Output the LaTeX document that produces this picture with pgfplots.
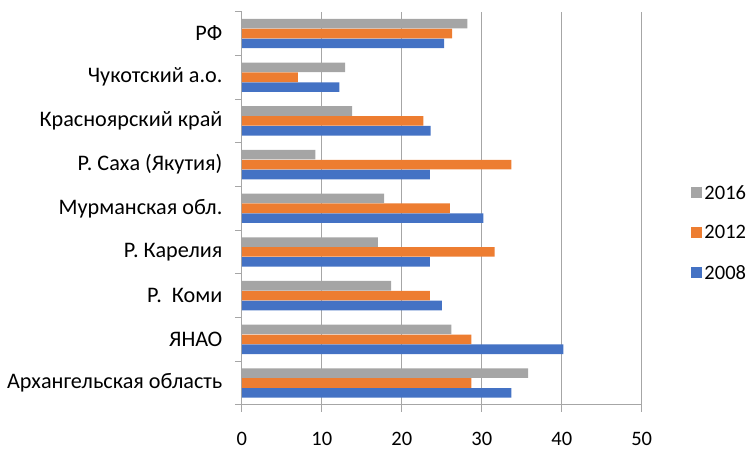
\documentclass[border=0pt]{standalone}
\usepackage{fontspec}
\setmainfont{Carlito}
\usepackage{pgfplots}
\pgfplotsset{compat=1.18}
\definecolor{c08}{HTML}{4472C4}
\definecolor{c12}{HTML}{ED7D31}
\definecolor{c16}{HTML}{A5A5A5}
\definecolor{gridc}{HTML}{A6A6A6}

\begin{document}
\begin{tikzpicture}
\path (-242bp,-45bp) rectangle (509bp,405bp);
\begin{axis}[
  at={(0,0)}, anchor=south west,
  scale only axis, width=400bp, height=393.3bp,
  xbar, bar width=9.6bp,
  xmin=0, xmax=50, xtick={0,10,...,50},
  ymin=-0.5, ymax=8.5,
  ytick={-0.5,0.5,...,8.5}, yticklabels={},
  extra y ticks={0,1,...,8},
  extra y tick labels={Архангельская область, ЯНАО, Р.\ \ Коми, Р. Карелия, Мурманская обл., Р. Саха (Якутия), Красноярский край, Чукотский а.о., РФ},
  extra y tick style={major tick length=0pt, tick style={draw=none}},
  axis x line*=bottom, axis y line*=left,
  axis line style={gridc, line width=0.8bp},
  tick style={gridc, line width=0.8bp},
  tick align=outside, major tick length=7bp,
  xmajorgrids, grid style={gridc, line width=0.8bp},
  /pgf/number format/assume math mode=true,
  xticklabel style={yshift=-17bp, font=\fontsize{20.5bp}{24bp}\selectfont},
  yticklabel style={xshift=-16bp, font=\fontsize{22.2bp}{26bp}\selectfont},
  legend style={draw=none, fill=none, at={(1.115,0.437)}, anchor=west,
    row sep=21bp, font=\fontsize{20.5bp}{24bp}\selectfont},
  legend cell align=left,
  reverse legend,
  legend image code/.code={\fill[#1] (0bp,-5.2bp) rectangle (11.6bp,6.4bp);},
]
\addplot[draw=none, fill=c08, bar shift=-9.9bp] coordinates {
  (33.7,0) (40.2,1) (25.0,2) (23.5,3) (30.2,4) (23.5,5) (23.6,6) (12.2,7) (25.3,8)};
\addlegendentry{2008}
\addplot[draw=none, fill=c12, bar shift=0bp] coordinates {
  (28.7,0) (28.7,1) (23.5,2) (31.6,3) (26.0,4) (33.7,5) (22.7,6) (7.0,7) (26.3,8)};
\addlegendentry{2012}
\addplot[draw=none, fill=c16, bar shift=9.9bp] coordinates {
  (35.8,0) (26.2,1) (18.65,2) (17.0,3) (17.8,4) (9.2,5) (13.8,6) (12.9,7) (28.2,8)};
\addlegendentry{2016}
\end{axis}
\end{tikzpicture}
\end{document}
